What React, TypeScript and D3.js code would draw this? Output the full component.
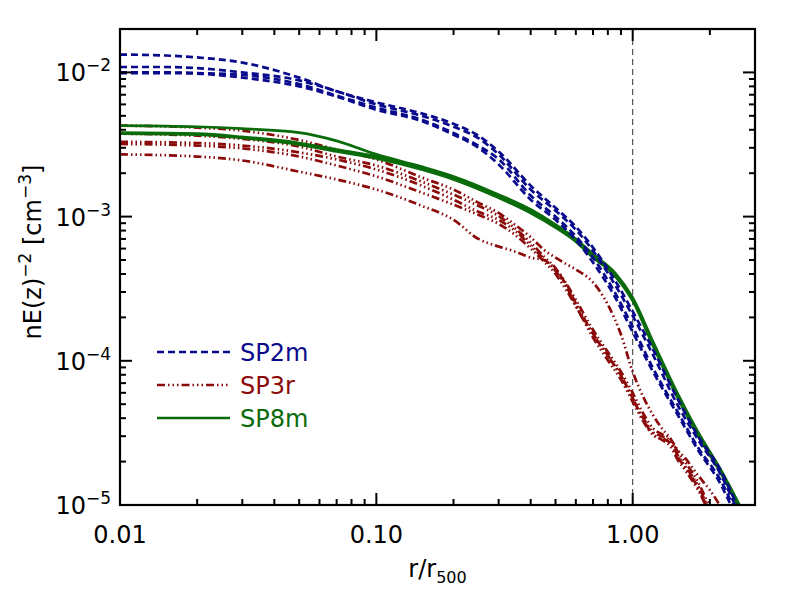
import React, { useEffect, useRef } from "react";
import * as d3 from "d3";

const W = 793;
const H = 595;
const margin = { top: 29, right: 38, bottom: 90, left: 120 };

const xDomain: [number, number] = [0.01, 3];
const yDomain: [number, number] = [1e-5, 2e-2];
const xTickValues = [0.01, 0.1, 1];
const xTickLabels = ["0.01", "0.10", "1.00"];
const yTickValues = [1e-5, 1e-4, 1e-3, 1e-2];
const yTickExponents = ["−5", "−4", "−3", "−2"];

// SP2m (blue dashed)
const sp2mRadius = [0.01, 0.015, 0.02, 0.03, 0.05, 0.07, 0.1, 0.15, 0.2, 0.25, 0.3, 0.4, 0.5, 0.6, 0.7, 0.85, 1.0, 1.2, 1.5, 1.8, 2.2, 2.6];
const sp2mProfiles = [
  [1.33e-2, 1.31e-2, 1.27e-2, 1.17e-2, 9.2e-3, 7.4e-3, 6.2e-3, 5.2e-3, 4.4e-3, 3.64e-3, 2.83e-3, 1.64e-3, 1.15e-3, 8.5e-4, 6.1e-4, 3.65e-4, 2.2e-4, 1.2e-4, 5.4e-5, 3.0e-5, 1.75e-5, 9.2e-6],
  [1.09e-2, 1.09e-2, 1.07e-2, 1.0e-2, 8.8e-3, 7.4e-3, 6.0e-3, 5.0e-3, 4.2e-3, 3.5e-3, 2.7e-3, 1.54e-3, 1.1e-3, 8.1e-4, 5.8e-4, 3.4e-4, 2.05e-4, 1.1e-4, 4.9e-5, 2.83e-5, 1.64e-5, 8.6e-6],
  [1.0e-2, 1.0e-2, 9.9e-3, 9.6e-3, 8.3e-3, 6.9e-3, 5.7e-3, 4.7e-3, 3.8e-3, 3.1e-3, 2.5e-3, 1.4e-3, 1.0e-3, 7.3e-4, 5.2e-4, 3.0e-4, 1.72e-4, 8.9e-5, 4.4e-5, 2.5e-5, 1.49e-5, 7.9e-6],
  [9.9e-3, 9.9e-3, 9.8e-3, 9.2e-3, 8.0e-3, 6.8e-3, 5.5e-3, 4.6e-3, 3.7e-3, 3.0e-3, 2.3e-3, 1.31e-3, 9.5e-4, 6.9e-4, 4.8e-4, 2.8e-4, 1.58e-4, 8.4e-5, 4.2e-5, 2.4e-5, 1.4e-5, 7.4e-6],
];

// SP3r (red dash-dot-dot-dot)
const sp3rRadius = [0.01, 0.02, 0.03, 0.05, 0.07, 0.1, 0.15, 0.2, 0.25, 0.3, 0.35, 0.4, 0.45, 0.5, 0.55, 0.6, 0.7, 0.8, 0.9, 1.0, 1.1, 1.2, 1.3, 1.4, 1.5, 1.6, 1.8, 2.0, 2.2];
const sp3rProfiles = [
  [4.28e-3, 4.14e-3, 3.94e-3, 3.4e-3, 2.92e-3, 2.49e-3, 1.87e-3, 1.54e-3, 1.25e-3, 1.06e-3, 8.7e-4, 7.2e-4, 5.9e-4, 5.2e-4, 4.7e-4, 4.3e-4, 3.5e-4, 2.45e-4, 1.52e-4, 8.4e-5, 5.6e-5, 4.2e-5, 3.4e-5, 2.9e-5, 2.4e-5, 2.12e-5, 1.6e-5, 1.27e-5, 9.8e-6],
  [3.76e-3, 3.64e-3, 3.46e-3, 3.06e-3, 2.61e-3, 2.26e-3, 1.75e-3, 1.42e-3, 1.19e-3, 1.01e-3, 8.2e-4, 6.6e-4, 5.3e-4, 4.4e-4, 3.45e-4, 2.65e-4, 1.64e-4, 1.15e-4, 8.4e-5, 6.0e-5, 4.3e-5, 3.4e-5, 3.1e-5, 2.9e-5, 2.33e-5, 1.99e-5, 1.44e-5, 9.8e-6, 7.9e-6],
  [3.3e-3, 3.24e-3, 3.11e-3, 2.79e-3, 2.49e-3, 2.12e-3, 1.64e-3, 1.31e-3, 1.08e-3, 9.5e-4, 7.9e-4, 6.3e-4, 5.1e-4, 4.2e-4, 3.3e-4, 2.4e-4, 1.54e-4, 1.09e-4, 7.9e-5, 5.5e-5, 4.0e-5, 3.2e-5, 3.0e-5, 2.8e-5, 2.2e-5, 1.87e-5, 1.36e-5, 9.2e-6, 7.9e-6],
  [3.19e-3, 3.11e-3, 2.97e-3, 2.61e-3, 2.26e-3, 1.9e-3, 1.47e-3, 1.21e-3, 1.03e-3, 8.9e-4, 7.4e-4, 6.0e-4, 4.9e-4, 4.0e-4, 3.1e-4, 2.4e-4, 1.45e-4, 1.01e-4, 7.4e-5, 5.2e-5, 3.8e-5, 3.06e-5, 2.83e-5, 2.56e-5, 2.05e-5, 1.75e-5, 1.27e-5, 8.9e-6, 7.8e-6],
  [2.7e-3, 2.61e-3, 2.45e-3, 2.05e-3, 1.81e-3, 1.54e-3, 1.19e-3, 9.5e-4, 7.0e-4, 6.2e-4, 5.7e-4, 5.2e-4, 5.0e-4, 4.3e-4, 3.37e-4, 2.5e-4, 1.54e-4, 1.08e-4, 7.9e-5, 5.5e-5, 3.9e-5, 3.1e-5, 2.9e-5, 2.7e-5, 2.15e-5, 1.82e-5, 1.32e-5, 8.9e-6, 7.8e-6],
];

// SP8m (green solid)
const sp8mRadius = [0.01, 0.02, 0.03, 0.05, 0.07, 0.1, 0.15, 0.2, 0.3, 0.4, 0.5, 0.6, 0.7, 0.85, 1.0, 1.2, 1.5, 1.8, 2.2, 2.7];
const sp8mProfiles = [
  [4.28e-3, 4.2e-3, 4.07e-3, 3.82e-3, 3.35e-3, 2.7e-3, 2.22e-3, 1.9e-3, 1.42e-3, 1.12e-3, 8.8e-4, 7.0e-4, 5.5e-4, 4.1e-4, 2.74e-4, 1.36e-4, 5.9e-5, 3.2e-5, 1.77e-5, 8.9e-6],
  [3.82e-3, 3.76e-3, 3.57e-3, 3.24e-3, 2.92e-3, 2.61e-3, 2.16e-3, 1.84e-3, 1.37e-3, 1.08e-3, 8.5e-4, 6.8e-4, 5.3e-4, 3.95e-4, 2.65e-4, 1.31e-4, 5.7e-5, 3.1e-5, 1.72e-5, 8.7e-6],
  [3.76e-3, 3.7e-3, 3.51e-3, 3.16e-3, 2.83e-3, 2.53e-3, 2.12e-3, 1.81e-3, 1.35e-3, 1.06e-3, 8.4e-4, 6.7e-4, 5.2e-4, 3.9e-4, 2.6e-4, 1.27e-4, 5.5e-5, 3.0e-5, 1.68e-5, 8.5e-6],
];

const seriesNames = ["SP2m", "SP3r", "SP8m"];
const seriesColors = ["#0a0a8c", "#8b0a0a", "#0a6b0a"];
const seriesDashes = ["7,4", "8,3,1.5,3,1.5,3,1.5,3", null];

const FONT = "'DejaVu Sans', sans-serif";

const App: React.FC = () => {
  const svgRef = useRef<SVGSVGElement>(null);

  useEffect(() => {
    if (!svgRef.current) return;
    const svg = d3.select(svgRef.current);
    svg.selectAll("*").remove();

    const iw = W - margin.left - margin.right;
    const ih = H - margin.top - margin.bottom;

    const x = d3.scaleLog().domain(xDomain).range([0, iw]);
    const y = d3.scaleLog().domain(yDomain).range([ih, 0]);

    const g = svg.append("g").attr("transform", `translate(${margin.left},${margin.top})`);

    svg.append("defs")
      .append("clipPath")
      .attr("id", "plot-clip")
      .append("rect")
      .attr("width", iw)
      .attr("height", ih);

    // r = r500 marker
    g.append("line")
      .attr("x1", x(1)).attr("x2", x(1))
      .attr("y1", 0).attr("y2", ih)
      .attr("stroke", "#333")
      .attr("stroke-width", 1)
      .attr("stroke-dasharray", "6,4");

    const line = d3.line<[number, number]>()
      .x(d => x(d[0]))
      .y(d => y(d[1]))
      .curve(d3.curveMonotoneX);

    const plot = g.append("g").attr("clip-path", "url(#plot-clip)");

    // red first, then green, blue on top
    const groups = [
      { radius: sp3rRadius, profiles: sp3rProfiles, idx: 1 },
      { radius: sp8mRadius, profiles: sp8mProfiles, idx: 2 },
      { radius: sp2mRadius, profiles: sp2mProfiles, idx: 0 },
    ];
    groups.forEach(({ radius, profiles, idx }) => {
      profiles.forEach(p => {
        const pts = radius.map((r, i) => [r, p[i]] as [number, number]);
        plot.append("path")
          .attr("d", line(pts))
          .attr("fill", "none")
          .attr("stroke", seriesColors[idx])
          .attr("stroke-width", 2.7)
          .attr("stroke-dasharray", seriesDashes[idx])
          .attr("stroke-linejoin", "round");
      });
    });

    // Ticks (all four sides, inward)
    const tickG = g.append("g").attr("stroke", "#000").attr("stroke-width", 2);
    x.ticks().forEach(t => {
      const major = Math.abs(Math.log10(t) - Math.round(Math.log10(t))) < 1e-9;
      const len = major ? 12 : 6;
      const px = x(t);
      tickG.append("line").attr("x1", px).attr("x2", px).attr("y1", ih).attr("y2", ih - len);
      tickG.append("line").attr("x1", px).attr("x2", px).attr("y1", 0).attr("y2", len);
    });
    y.ticks().forEach(t => {
      const major = Math.abs(Math.log10(t) - Math.round(Math.log10(t))) < 1e-9;
      const len = major ? 12 : 6;
      const py = y(t);
      tickG.append("line").attr("x1", 0).attr("x2", len).attr("y1", py).attr("y2", py);
      tickG.append("line").attr("x1", iw).attr("x2", iw - len).attr("y1", py).attr("y2", py);
    });

    // Frame
    g.append("rect")
      .attr("width", iw)
      .attr("height", ih)
      .attr("fill", "none")
      .attr("stroke", "#000")
      .attr("stroke-width", 2.2);

    // X tick labels
    xTickValues.forEach((v, i) => {
      g.append("text")
        .attr("x", x(v))
        .attr("y", ih + 38)
        .attr("text-anchor", "middle")
        .attr("font-family", FONT)
        .attr("font-size", 24)
        .attr("fill", "#000")
        .text(xTickLabels[i]);
    });

    // Y tick labels
    yTickValues.forEach((v, i) => {
      const t = g.append("text")
        .attr("x", -9)
        .attr("y", y(v) + 9)
        .attr("text-anchor", "end")
        .attr("font-family", FONT)
        .attr("font-size", 24)
        .attr("fill", "#000");
      t.append("tspan").text("10");
      t.append("tspan").attr("font-size", 17).attr("dy", -10).text(yTickExponents[i]);
    });

    // X axis title
    const xt = svg.append("text")
      .attr("x", margin.left + iw / 2)
      .attr("y", 577)
      .attr("text-anchor", "middle")
      .attr("font-family", FONT)
      .attr("font-size", 24)
      .attr("fill", "#000");
    xt.append("tspan").text("r/r");
    xt.append("tspan").attr("font-size", 16).attr("dy", 6).text("500");

    // Y axis title
    const yt = svg.append("text")
      .attr("transform", `translate(41,252) rotate(-90)`)
      .attr("text-anchor", "middle")
      .attr("font-family", FONT)
      .attr("font-size", 24)
      .attr("fill", "#000");
    yt.append("tspan").text("nE(z)");
    yt.append("tspan").attr("font-size", 17).attr("dy", -10).text("−2");
    yt.append("tspan").attr("dy", 10).text(" [cm");
    yt.append("tspan").attr("font-size", 17).attr("dy", -10).text("−3");
    yt.append("tspan").attr("dy", 10).text("]");

    // Legend
    const legendX = 157;
    const legendY = 352;
    const legendStep = 33;
    seriesNames.forEach((name, i) => {
      const ly = legendY + i * legendStep;
      svg.append("line")
        .attr("x1", legendX).attr("x2", legendX + 73)
        .attr("y1", ly).attr("y2", ly)
        .attr("stroke", seriesColors[i])
        .attr("stroke-width", 2.4)
        .attr("stroke-dasharray", seriesDashes[i]);
      svg.append("text")
        .attr("x", legendX + 83)
        .attr("y", ly + 9)
        .attr("font-family", FONT)
        .attr("font-size", 24)
        .attr("fill", seriesColors[i])
        .text(name);
    });
  }, []);

  return (
    <div style={{ position: "absolute", left: 0, top: 0, width: W, height: H, background: "#fff" }}>
      <svg ref={svgRef} width={W} height={H} style={{ display: "block" }} />
    </div>
  );
};

export default App;
